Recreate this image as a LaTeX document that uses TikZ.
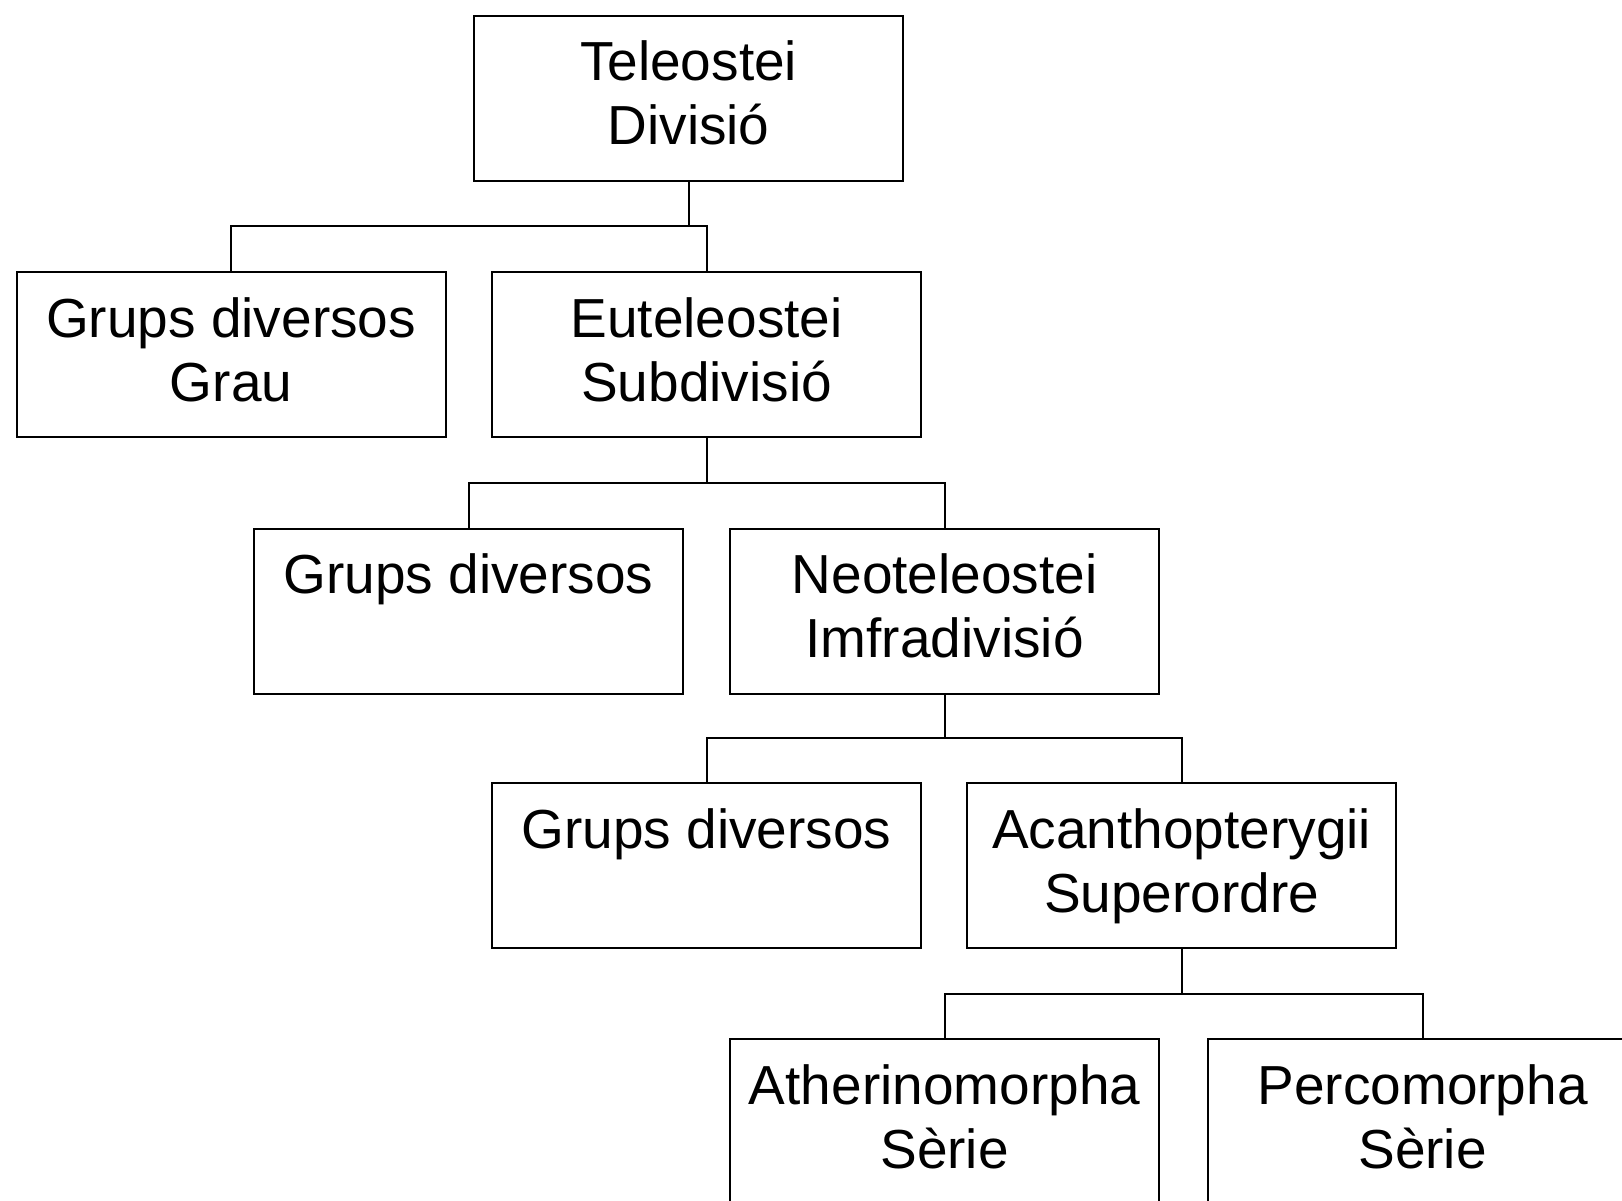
\documentclass[tikz,border=0pt]{standalone}
\usepackage{fontspec}
\setmainfont{Liberation Sans}
\usetikzlibrary{calc}
\tikzset{
  taxon/.style={draw=black, line width=2.2pt, minimum width=429pt, minimum height=165pt, inner sep=0pt, anchor=north west, fill=white},
  txt/.style={anchor=base, inner sep=0pt, font=\fontsize{55}{64}\selectfont},
  conn/.style={draw=black, line width=2pt}
}
\newcommand\taxbox[5]{%
  \node[taxon] (#1) at (#2,#3) {};
  \node[txt] (#1-a) at ([yshift=-66pt]#1.north) {#4};
  \node[txt] (#1-b) at ([yshift=-130pt]#1.north) {#5};
}
\newcommand\branch[3]{%
  \coordinate (#1-j) at ($(#1.south)!0.5!(#3.north)$);
  \draw[conn] (#1.south) -- (#1.south |- #1-j);
  \draw[conn] (#2.north) -- (#2.north |- #1-j) -- (#3.north |- #1-j) -- (#3.north);
}
\begin{document}
\begin{tikzpicture}[x=1pt, y=-1pt]
\useasboundingbox[fill=white] (0,0) rectangle (1622,1200);
\taxbox{tele}{473}{14.5}{Teleostei}{Divisió}
\taxbox{grau}{15.5}{271}{Grups diversos}{Grau}
\taxbox{eute}{491}{271}{Euteleostei}{Subdivisió}
\taxbox{gd2}{253}{527.5}{Grups diversos}{}
\taxbox{neo}{729}{527.5}{Neoteleostei}{Imfradivisió}
\taxbox{gd3}{491}{782}{Grups diversos}{}
\taxbox{acan}{966}{782}{Acanthopterygii}{Superordre}
\taxbox{ather}{729}{1038}{Atherinomorpha}{Sèrie}
\taxbox{perco}{1207}{1038}{Percomorpha}{Sèrie}
\branch{tele}{grau}{eute}
\branch{eute}{gd2}{neo}
\branch{neo}{gd3}{acan}
\branch{acan}{ather}{perco}
\end{tikzpicture}
\end{document}
